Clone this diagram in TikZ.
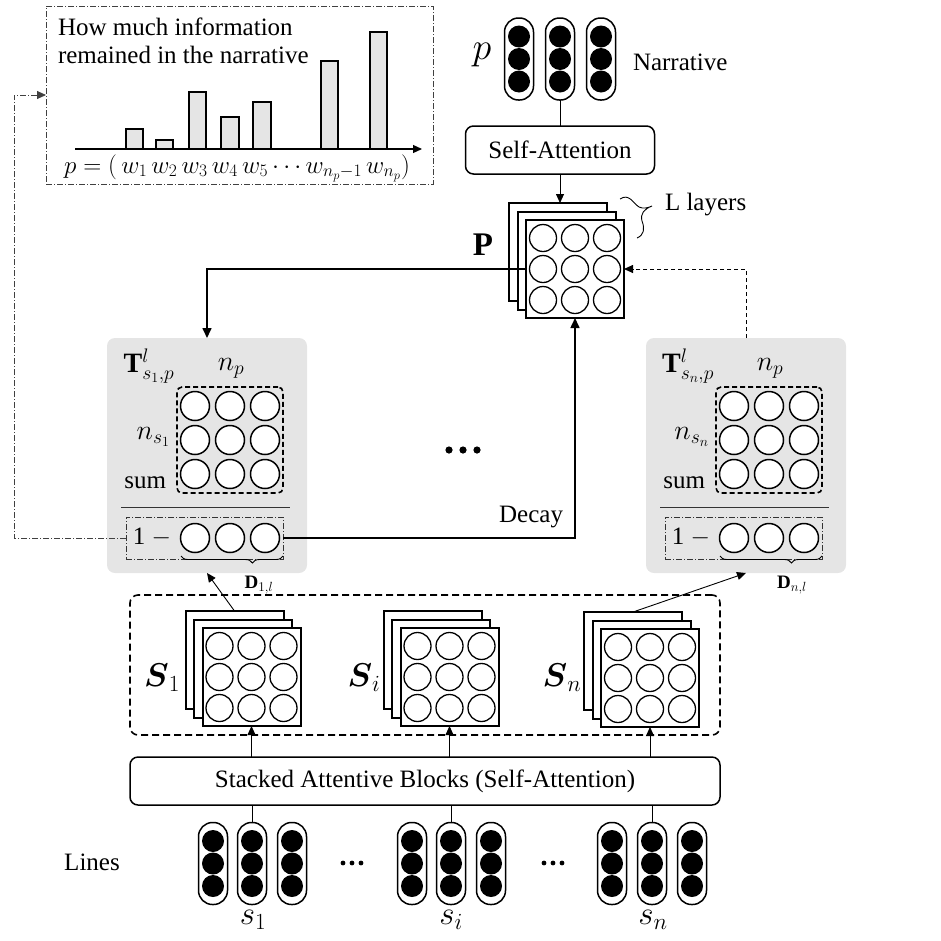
\RequirePackage{fix-cm}
\documentclass[tikz,border=0pt]{standalone}
\usepackage{amsmath}
\usepackage{fontspec}
\setmainfont{Liberation Serif}
\usetikzlibrary{arrows.meta,decorations.pathreplacing,calc}

\newcommand\capsule[3]{%
  \node[capsule] (#1) at (#2,#3) {};
  \node[blackdot] (#1a) at (#2,#3-22.5) {};
  \node[blackdot] (#1b) at (#2,#3) {};
  \node[blackdot] (#1c) at (#2,#3+22.5) {};
}
\newcommand\mstack[3]{%
  \node[mlayer] (#1bk) at (#2-17,#3-17) {};
  \node[mlayer] (#1md) at (#2-8.5,#3-8.5) {};
  \node[mlayer] (#1) at (#2,#3) {};
  \foreach \i in {-1,0,1}{\foreach \j in {-1,0,1}{%
    \node[mcirc] (#1c\i\j) at (#2+32*\i,#3+31*\j) {};}}
}
\newcommand\tblock[5]{%
  \node[graybox] (#1box) at (#2+207,455.5) {};
  \node[font=\fontsize{28}{32}\selectfont] (#1T) at (#2+149,366) {$\mathbf{T}^{l}_{#3,p}$};
  \node[font=\fontsize{28}{32}\selectfont] (#1np) at (#2+231,368) {$n_p$};
  \node[font=\fontsize{28}{32}\selectfont, anchor=east] (#1ns) at (#2+170,437) {$n_{#3}$};
  \node[txt, anchor=base east] (#1sum) at (#2+166,488) {sum};
  \node[dmat] (#1mat) at (#2+230,440) {};
  \foreach \i/\xx in {1/195,2/230,3/265}{\foreach \j/\yy in {1/406,2/440,3/474}{%
    \node[tcirc] (#1c\i\j) at (#2+\xx,\yy) {};}}
  \draw[sepline] (#2+121,507) -- (#2+290,507);
  \node[ddbox] (#1one) at (#2+204.5,538) {};
  \node[txt] (#1m) at (#2+152,537) {1 $-$};
  \foreach \i/\xx in {1/195,2/230,3/265}{\node[tcirc] (#1d\i) at (#2+\xx,538) {};}
  \draw[brc] (#2+181,556) -- (#2+283,556);
  \node[font=\fontsize{19}{22}\selectfont] (#1D) at (#5,585) {$\mathbf{D}_{#4}$};
}

\begin{document}
\begin{tikzpicture}[x=1pt,y=-1pt,
  every node/.style={inner sep=0pt, outer sep=0pt},
  txt/.style={font=\fontsize{25}{30}\selectfont},
  arr/.style={-{Triangle[length=9pt,width=8pt]}, line width=0.9pt},
  tarr/.style={-{Triangle[length=10pt,width=9pt]}, line width=1.6pt},
  capsule/.style={draw, line width=1.5pt, rounded corners=14pt, minimum width=29pt, minimum height=82pt},
  blackdot/.style={circle, fill=black, minimum size=22pt},
  mlayer/.style={draw, line width=2pt, fill=white, minimum size=98pt},
  mcirc/.style={circle, draw, line width=1.3pt, minimum size=27pt},
  tcirc/.style={circle, draw, line width=1.5pt, fill=white, minimum size=29pt},
  graybox/.style={fill=black!10, rounded corners=8pt, minimum width=200pt, minimum height=235pt},
  dmat/.style={draw, line width=1.6pt, dash pattern=on 5pt off 3pt, rounded corners=5pt, minimum size=106pt},
  ddbox/.style={draw, black!80, line width=0.9pt, dash pattern=on 6pt off 2pt on 1pt off 2pt, minimum width=157pt, minimum height=42pt},
  sepline/.style={line width=1pt, black!80},
  brc/.style={decorate, decoration={brace, mirror, amplitude=7pt, aspect=0.7}, line width=0.9pt},
  dashdot/.style={black!75, line width=0.9pt, dash pattern=on 6pt off 2pt on 1pt off 2pt},
  boxr/.style={draw, line width=1.5pt, rounded corners=8pt},
  mathlab/.style={font=\fontsize{33}{36}\selectfont}
]
\useasboundingbox (0,0) rectangle (941,940);

% ---------- top-left chart box ----------
\node[draw, dashdot, minimum width=387pt, minimum height=178pt] (topbox) at (239.5,95) {};
\node[txt, anchor=base west] (tl1) at (58,35) {How much information};
\node[txt, anchor=base west] (tl2) at (58,63) {remained in the narrative};
\foreach \a/\b/\t in {126/143/129,156/173/140,189/206/92,221/239/117,253/271/102,321/338/61,370/387/32}{
  \filldraw[fill=black!10, line width=1.2pt] (\a,149) rectangle (\b,\t);}
\coordinate (ax0) at (75,149);
\coordinate (ax1) at (422,149);
\draw[arr, line width=1.2pt] (ax0) -- (ax1);
\node[font=\fontsize{25}{28}\selectfont, anchor=base] (formula) at (237,173)
  {$p=(\,w_1\,w_2\,w_3\,w_4\,w_5\cdots w_{n_p-1}\,w_{n_p})$};

% ---------- narrative ----------
\capsule{pa}{519}{59}
\capsule{pb}{560}{59}
\capsule{pc}{601}{59}
\node[font=\fontsize{38}{40}\selectfont] (plab) at (482,55) {$p$};
\node[txt, anchor=west] (narr) at (633,62) {Narrative};
\node[boxr, minimum width=189pt, minimum height=48pt] (SA) at (560,150) {};
\node[txt] (SAt) at (560,150) {Self-Attention};

% ---------- P stack ----------
\mstack{P}{575}{269}
\node[font=\bfseries\fontsize{33}{36}\selectfont] (Plab) at (483,245) {P};
\draw[line width=0.9pt] (620,199) .. controls (629,193) and (633,203) .. (639,207)
  .. controls (643,209) and (648,208) .. (652,206)
  .. controls (644,209) and (640,214) .. (642,221)
  .. controls (645,229) and (644,235) .. (637,238);
\node[txt, anchor=west] (Llab) at (665,205) {L layers};

% ---------- T blocks ----------
\tblock{L}{0}{s_1}{1,l}{259}
\tblock{R}{539}{s_n}{n,l}{792}

\fill (449,450) circle (3.6pt) (463,450) circle (3.6pt) (477,450) circle (3.6pt);
\node[txt, anchor=base east] (decay) at (563,522) {Decay};

% ---------- S stacks ----------
\node[draw, line width=1.6pt, dash pattern=on 7pt off 4pt, rounded corners=8pt, minimum width=590pt, minimum height=140pt] (Sbox) at (425,665) {};
\mstack{Sa}{251.5}{677}
\mstack{Sb}{449.5}{677}
\mstack{Sc}{650}{678}
\node[mathlab] (Salab) at (162,678) {$\boldsymbol{S}_1$};
\node[mathlab] (Sblab) at (364,678) {$\boldsymbol{S}_i$};
\node[mathlab] (Sclab) at (562,678) {$\boldsymbol{S}_n$};

\node[boxr, minimum width=590pt, minimum height=48pt] (SAB) at (425,781) {};
\node[txt] (SABt) at (425,781) {Stacked Attentive Blocks (Self-Attention)};

% ---------- lines ----------
\node[txt] (lines) at (92,862) {Lines};
\capsule{la}{213}{863.5}
\capsule{lb}{252}{863.5}
\capsule{lc}{292}{863.5}
\capsule{ma}{412}{863.5}
\capsule{mb}{451}{863.5}
\capsule{mc}{491}{863.5}
\capsule{na}{612}{863.5}
\capsule{nb}{652}{863.5}
\capsule{nc}{692}{863.5}
\fill (343,863) circle (2.4pt) (352,863) circle (2.4pt) (361,863) circle (2.4pt);
\fill (544,863) circle (2.4pt) (553,863) circle (2.4pt) (562,863) circle (2.4pt);
\node[mathlab] (s1) at (253,920) {$s_1$};
\node[mathlab] (si) at (451,920) {$s_i$};
\node[mathlab] (sn) at (653,920) {$s_n$};

% ---------- connectors ----------
\draw[line width=0.9pt] (pb.south) -- (SA.north);
\draw[arr] (SA.south) -- (SA.south |- Pbk.north);
\draw[tarr] (P.west) -| (Lbox.north);
\draw[tarr] (Lone.east) -| (P.south);
\draw[arr, dash pattern=on 4pt off 3pt] (Rbox.north) |- (P.east);
\coordinate (lcorner) at (14,538);
\draw[dashdot, -{Triangle[length=9pt,width=8pt]}] (Lone.west) -- (lcorner) |- (topbox.west);
\draw[arr] (Sabk.north) -- (Lbox.south);
\draw[arr] (Scbk.north) -- (Rbox.south);
\foreach \s/\c in {Sa/lb,Sb/mb,Sc/nb}{
  \draw[arr] (\s.south |- SAB.north) -- (\s.south);
  \draw[line width=0.9pt] (\c.north) -- (\c.north |- SAB.south);
}
\end{tikzpicture}
\end{document}
